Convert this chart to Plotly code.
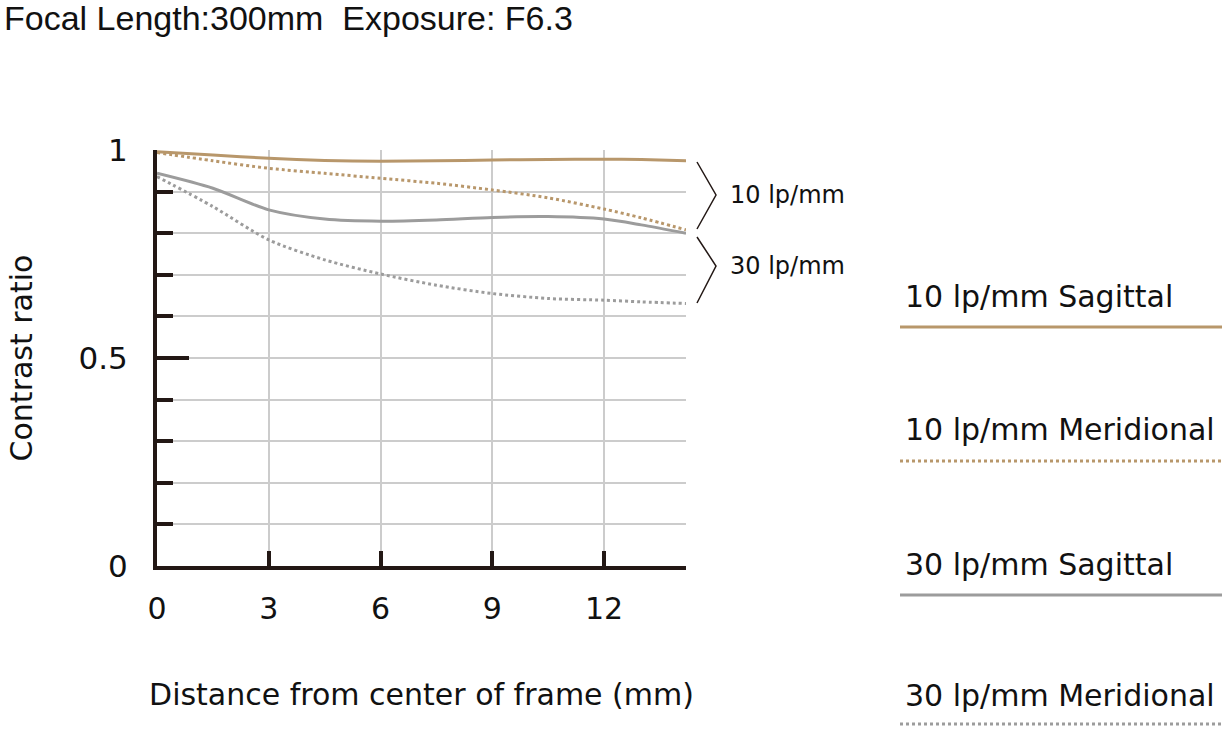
import plotly.graph_objects as go

# distance from centre of frame (mm)
distance = [0, 1.5, 3, 4.5, 6, 7.5, 9, 10.5, 12, 13, 14.2]

# contrast ratio
sag_10 = [0.996, 0.988, 0.980, 0.975, 0.973, 0.974, 0.976, 0.977, 0.978, 0.977, 0.974]
mer_10 = [0.994, 0.974, 0.956, 0.944, 0.932, 0.920, 0.904, 0.885, 0.858, 0.837, 0.808]
sag_30 = [0.944, 0.908, 0.856, 0.834, 0.829, 0.832, 0.838, 0.840, 0.834, 0.820, 0.800]
mer_30 = [0.936, 0.864, 0.784, 0.736, 0.702, 0.675, 0.655, 0.643, 0.639, 0.635, 0.631]

x_ticks = [0, 3, 6, 9, 12, 14.2]
x_labels = ["0", "3", "6", "9", "12", ""]
y_ticks = [0, 0.5, 1]
y_labels = ["0", "0.5", "1"]

series_names = ["10 lp/mm Sagittal", "10 lp/mm Meridional",
                "30 lp/mm Sagittal", "30 lp/mm Meridional"]

TAN = "#b8976b"
GREY = "#9c9c9c"
INK = "#231815"
FONT = "DejaVu Sans"

W, H = 1226, 731
L, R, T, B = 157, 686, 150, 566


def px(x):
    return (x - L) / (R - L)


def py(y):
    return (B - y) / (B - T)


fig = go.Figure()

styles = [(TAN, "solid"), (TAN, "3px,3px"), (GREY, "solid"), (GREY, "3px,3px")]
for vals, name, (col, dash) in zip([sag_10, mer_10, sag_30, mer_30], series_names, styles):
    fig.add_trace(go.Scatter(
        x=distance, y=vals, name=name, mode="lines",
        line=dict(color=col, width=3, dash=dash, shape="spline", smoothing=0.8),
        showlegend=False, cliponaxis=False
    ))

shapes = []
annotations = []

# brackets grouping the curves
for top, mid, bot, lab in [(162, 195, 229, "10 lp/mm"), (237, 266, 303, "30 lp/mm")]:
    shapes.append(dict(
        type="path", xref="paper", yref="paper",
        path=f"M {px(697)},{py(top)} L {px(716)},{py(mid)} L {px(697)},{py(bot)}",
        line=dict(color=INK, width=1.5)
    ))
    annotations.append(dict(
        text=lab, x=px(728), y=py(mid), xref="paper", yref="paper",
        xanchor="left", yanchor="middle", showarrow=False,
        font=dict(family=FONT, size=24, color="#111")
    ))

# hand-drawn legend on the right
legend_rows = [(296, 327), (429, 461), (564, 595), (695, 724)]
for (ty, ly), name, (col, dash) in zip(legend_rows, series_names, styles):
    annotations.append(dict(
        text=name, x=px(903), y=py(ty), xref="paper", yref="paper",
        xanchor="left", yanchor="middle", showarrow=False,
        font=dict(family=FONT, size=30, color="#111")
    ))
    shapes.append(dict(
        type="line", xref="paper", yref="paper",
        x0=px(900), x1=px(1222), y0=py(ly), y1=py(ly),
        line=dict(color=col, width=3, dash=dash)
    ))

annotations.append(dict(
    text="Focal Length:300mm  Exposure: F6.3", x=px(2), y=py(18),
    xref="paper", yref="paper", xanchor="left", yanchor="middle",
    showarrow=False, font=dict(family="Liberation Sans", size=34, color="#111")
))

fig.update_layout(
    width=W, height=H,
    margin=dict(l=L, r=W - R, t=T, b=H - B),
    paper_bgcolor="white", plot_bgcolor="white",
    font=dict(family=FONT, color="#111"),
    shapes=shapes, annotations=annotations,
    xaxis=dict(
        range=[0, 14.2], tickvals=x_ticks, ticktext=x_labels,
        ticks="inside", ticklen=15, tickwidth=4, tickcolor=INK,
        showline=True, linewidth=4, linecolor=INK,
        showgrid=True, gridcolor="#cccccc", gridwidth=1.5, zeroline=False,
        tickfont=dict(family=FONT, size=30, color="#111"), ticklabelstandoff=13,
        title=dict(text="Distance from center of frame (mm)",
                   font=dict(family=FONT, size=30, color="#111"), standoff=60),
    ),
    yaxis=dict(
        range=[0, 1], tickvals=y_ticks, ticktext=y_labels,
        ticks="inside", ticklen=32, tickwidth=4, tickcolor=INK,
        minor=dict(dtick=0.1, ticks="inside", ticklen=16, tickwidth=4, tickcolor=INK,
                   showgrid=True, gridcolor="#cccccc", gridwidth=1.5),
        showline=True, linewidth=4, linecolor=INK,
        showgrid=True, gridcolor="#cccccc", gridwidth=1.5, zeroline=False,
        tickfont=dict(family=FONT, size=31, color="#111"), ticklabelstandoff=19,
        title=dict(text="Contrast ratio",
                   font=dict(family=FONT, size=30, color="#111"), standoff=38),
    ),
)

# drop the page's default body margin so the figure sits at the window origin
fig.write_html("out.html", config={"displayModeBar": False},
               post_script="document.body.style.margin='0';")
